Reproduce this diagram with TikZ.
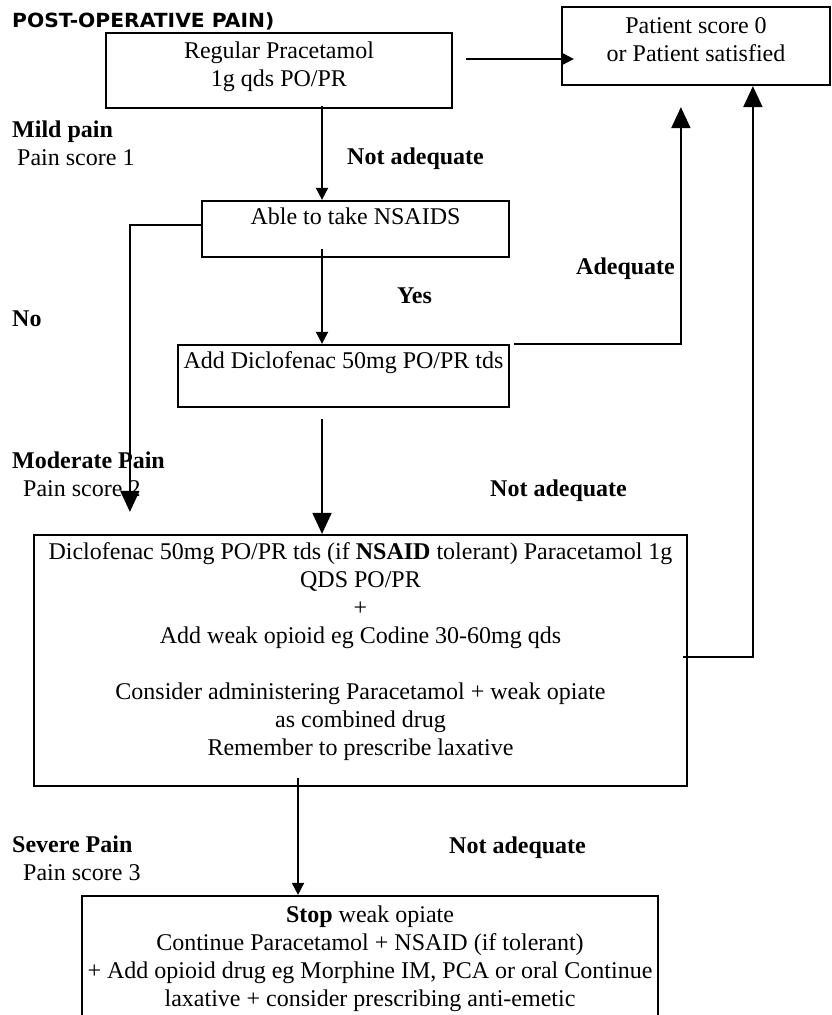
\documentclass[tikz,border=0pt]{standalone}
\usepackage{fontspec}
\setmainfont{Liberation Serif}
\newfontfamily\titlefont{DejaVu Sans}
\usetikzlibrary{arrows.meta}
\begin{document}
\begin{tikzpicture}[x=1pt,y=-1pt,
  box/.style={draw, line width=2.2pt, inner sep=0pt},
  txt/.style={font=\fontsize{24}{28}\selectfont, align=center, inner sep=0pt, anchor=north},
  lbl/.style={font=\fontsize{24}{28}\selectfont\bfseries, inner sep=0pt, anchor=base west},
  plainlbl/.style={font=\fontsize{24}{28}\selectfont, inner sep=0pt, anchor=base west},
  sarr/.style={line width=1.8pt, -{Triangle[length=12pt,width=12pt]}},
  larr/.style={line width=1.8pt, -{Triangle[length=21pt,width=19pt]}}
]
\useasboundingbox (0,0) rectangle (831,1015);
\clip (0,0) rectangle (831,1015);

% title
\node[font=\titlefont\bfseries\fontsize{19.5}{22}\selectfont, inner sep=0pt, anchor=base west, xscale=1.04] (title) at (12,27) {POST-OPERATIVE PAIN)};

% boxes
\node[box, minimum width=346pt, minimum height=75pt] (A) at (279,70.5) {};
\node[txt] (At) at ([yshift=-9.5pt]A.north) {Regular Pracetamol\\1g qds PO/PR};

\node[box, minimum width=268pt, minimum height=78pt] (B) at (696,46) {};
\node[txt] (Bt) at ([yshift=-11.5pt]B.north) {Patient score 0\\or Patient satisfied};

\node[box, minimum width=307pt, minimum height=56pt] (NS) at (355.5,229) {};
\node[txt] (NSt) at ([yshift=-7.5pt]NS.north) {Able to take NSAIDS};

\node[box, minimum width=331pt, minimum height=62pt] (C) at (343.5,376) {};
\node[txt] (Ct) at ([yshift=-7.5pt]C.north) {Add Diclofenac 50mg PO/PR tds};

\node[box, minimum width=653pt, minimum height=251pt] (D) at (360.5,660.5) {};
\node[txt] (Dt) at ([yshift=-8.5pt]D.north) {Diclofenac 50mg PO/PR tds (if \textbf{NSAID} tolerant) Paracetamol 1g\\QDS PO/PR\\+\\Add weak opioid eg Codine 30-60mg qds\\[28pt]Consider administering Paracetamol + weak opiate\\as combined drug\\Remember to prescribe laxative};

\node[box, minimum width=576pt, minimum height=160pt] (E) at (370,976) {};
\node[txt] (Et) at ([yshift=-10.5pt]E.north) {\textbf{Stop} weak opiate\\Continue Paracetamol + NSAID (if tolerant)\\+ Add opioid drug eg Morphine IM, PCA or oral Continue\\laxative + consider prescribing anti-emetic};

% side labels
\node[lbl] (mild) at (12,137) {Mild pain};
\node[plainlbl] (ps1) at (17,165) {Pain score 1};
\node[lbl] (na1) at (347,164) {Not adequate};
\node[lbl] (yes) at (397,303) {Yes};
\node[lbl] (no) at (12,326) {No};
\node[lbl] (adeq) at (576,274) {Adequate};
\node[lbl] (mod) at (12,468) {Moderate Pain};
\node[plainlbl] (ps2) at (23,496) {Pain score 2};
\node[lbl] (na2) at (490,496) {Not adequate};
\node[lbl] (sev) at (12,852) {Severe Pain};
\node[plainlbl] (ps3) at (23,880) {Pain score 3};
\node[lbl] (na3) at (449,853) {Not adequate};

% connectors
\draw[sarr] ([xshift=13pt,yshift=11.5pt]A.east) -- ([xshift=13pt,yshift=11.5pt]A.east -| B.west);
\draw[sarr] ([xshift=43pt,yshift=3pt]A.south) -- ([xshift=43pt]A.south |- NS.north);
\draw[sarr] ([xshift=-33.5pt,yshift=9pt]NS.south) -- ([xshift=-33.5pt]NS.south |- C.north);
\draw[larr] ([yshift=4pt]NS.west) -| ([xshift=97pt,yshift=22pt]D.north west);
\draw[larr] ([xshift=-21.5pt,yshift=-11pt]C.south) -- ([xshift=-21.5pt]C.south |- D.north);
\draw[larr] ([xshift=4pt]C.north east) -| ([xshift=120pt,yshift=-21pt]B.south west);
\draw[larr] ([xshift=-5pt,yshift=3.5pt]D.east) -| ([xshift=192pt]B.south west);
\draw[sarr] ([xshift=-62.5pt,yshift=9pt]D.south) -- ([xshift=-62.5pt]D.south |- E.north);
\end{tikzpicture}
\end{document}
